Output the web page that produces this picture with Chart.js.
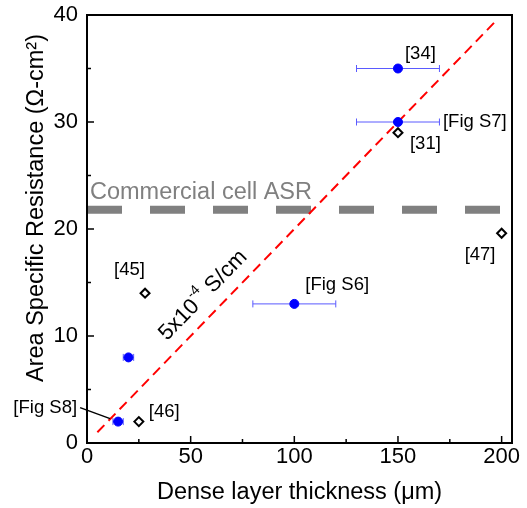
<!DOCTYPE html>
<html>
<head>
<meta charset="utf-8">
<script src="https://cdn.jsdelivr.net/npm/chart.js@4/dist/chart.umd.min.js"></script>
<style>
  html, body { margin: 0; padding: 0; background: #fff; }
  #wrap { width: 527px; height: 508px; }
</style>
</head>
<body>
<div id="wrap"><canvas id="out"></canvas></div>
<script>
// this work (blue, with x error bars)
const workThickness = [150, 150, 100, 20, 15];
const workASR = [35, 30, 13, 8, 2];
const workErr = [20, 20, 20, 2.5, 2.5];
const workLabels = ['[34]', '[Fig S7]', '[Fig S6]', '', '[Fig S8]'];

// literature (open diamonds)
const litThickness = [150, 28, 25, 200];
const litASR = [29, 14, 2, 19.6];
const litLabels = ['[31]', '[45]', '[46]', '[47]'];

// 5x10^-4 S/cm line and commercial ASR level
const fitX = [5, 198];
const fitY = [1, 39.6];
const commercialX = [0, 205];
const commercialY = [21.8, 21.8];

const xTicks = [0, 50, 100, 150, 200];
const yTicks = [0, 10, 20, 30, 40];

const FONT = '"Liberation Sans", Arial, sans-serif';

// label placement, px offset from the point
const workLabelPos = [[7, -15, 'left'], [45, 0, 'left'], [11, -19, 'left'], null, [-41, -14, 'right']];
const litLabelPos = [[12, 11, 'left'], [-31, -23, 'left'], [10, -10, 'left'], [-37, 22, 'left']];

const extras = {
  id: 'extras',
  beforeDatasetsDraw(chart) {
    const ctx = chart.ctx;
    const xs = chart.scales.x, ys = chart.scales.y;
    ctx.save();
    ctx.strokeStyle = '#5a5aff';
    ctx.lineWidth = 1;
    workThickness.forEach((t, i) => {
      const y = ys.getPixelForValue(workASR[i]);
      const x1 = xs.getPixelForValue(t - workErr[i]);
      const x2 = xs.getPixelForValue(t + workErr[i]);
      ctx.beginPath();
      ctx.moveTo(x1, y); ctx.lineTo(x2, y);
      ctx.moveTo(x1, y - 3.5); ctx.lineTo(x1, y + 3.5);
      ctx.moveTo(x2, y - 3.5); ctx.lineTo(x2, y + 3.5);
      ctx.stroke();
    });
    ctx.restore();
  },
  afterDatasetsDraw(chart) {
    const ctx = chart.ctx;
    const xs = chart.scales.x, ys = chart.scales.y;
    const a = chart.chartArea;
    ctx.save();

    // frame
    ctx.strokeStyle = '#000';
    ctx.lineWidth = 2;
    ctx.strokeRect(a.left, a.top, a.right - a.left, a.bottom - a.top);

    // inward ticks
    ctx.lineWidth = 1.5;
    ctx.beginPath();
    for (let v = 0; v <= 200; v += 25) {
      const x = xs.getPixelForValue(v);
      const len = v % 50 === 0 ? 7 : 4;
      ctx.moveTo(x, a.bottom); ctx.lineTo(x, a.bottom - len);
    }
    for (let v = 0; v <= 40; v += 5) {
      const y = ys.getPixelForValue(v);
      const len = v % 10 === 0 ? 7 : 4;
      ctx.moveTo(a.left, y); ctx.lineTo(a.left + len, y);
    }
    ctx.stroke();

    // axis titles
    ctx.fillStyle = '#000';
    ctx.font = '23.5px ' + FONT;
    ctx.textAlign = 'center';
    ctx.textBaseline = 'middle';
    ctx.fillText('Dense layer thickness (\u03bcm)', (a.left + a.right) / 2, 493);
    ctx.save();
    ctx.translate(37, 208);
    ctx.rotate(-Math.PI / 2);
    ctx.fillText('Area Specific Resistance (\u03a9-cm\u00b2)', 0, 0);
    ctx.restore();

    // point labels
    ctx.font = '18.5px ' + FONT;
    workLabels.forEach((txt, i) => {
      if (!txt) return;
      const p = workLabelPos[i];
      ctx.textAlign = p[2];
      ctx.fillText(txt, xs.getPixelForValue(workThickness[i]) + p[0], ys.getPixelForValue(workASR[i]) + p[1]);
    });
    litLabels.forEach((txt, i) => {
      const p = litLabelPos[i];
      ctx.textAlign = p[2];
      ctx.fillText(txt, xs.getPixelForValue(litThickness[i]) + p[0], ys.getPixelForValue(litASR[i]) + p[1]);
    });

    // leader for [Fig S8]
    const px = xs.getPixelForValue(workThickness[4]);
    const py = ys.getPixelForValue(workASR[4]);
    ctx.lineWidth = 1.5;
    ctx.beginPath();
    ctx.moveTo(px - 38, py - 14);
    ctx.lineTo(px - 8, py - 3);
    ctx.stroke();

    // commercial label
    ctx.fillStyle = '#808080';
    ctx.font = '23.5px ' + FONT;
    ctx.textAlign = 'left';
    ctx.fillText('Commercial cell ASR', a.left + 3, ys.getPixelForValue(commercialY[0]) - 17);

    // rotated conductivity label
    const x0 = xs.getPixelForValue(fitX[0]), y0 = ys.getPixelForValue(fitY[0]);
    const x1 = xs.getPixelForValue(fitX[1]), y1 = ys.getPixelForValue(fitY[1]);
    const ang = Math.atan2(y1 - y0, x1 - x0);
    ctx.save();
    ctx.translate(xs.getPixelForValue(56), ys.getPixelForValue(13.8));
    ctx.rotate(ang);
    ctx.fillStyle = '#000';
    ctx.font = '22px ' + FONT;
    const w1 = ctx.measureText('5x10').width;
    ctx.font = '14px ' + FONT;
    const w2 = ctx.measureText('-4').width;
    ctx.font = '22px ' + FONT;
    const w3 = ctx.measureText(' S/cm').width;
    let sx = -(w1 + w2 + w3) / 2;
    ctx.textAlign = 'left';
    ctx.fillText('5x10', sx, 0);
    sx += w1;
    ctx.font = '14px ' + FONT;
    ctx.fillText('-4', sx, -9);
    sx += w2;
    ctx.font = '22px ' + FONT;
    ctx.fillText(' S/cm', sx, 0);
    ctx.restore();

    ctx.restore();
  }
};

const canvasCtx = document.getElementById('out').getContext('2d');

const chartConfig = {
  type: 'scatter',
  data: {
    datasets: [
      {
        label: 'this work',
        data: workThickness.map((t, i) => ({ x: t, y: workASR[i] })),
        backgroundColor: '#0000ff',
        borderColor: '#0000ff',
        pointRadius: 4.5,
        pointStyle: 'circle',
        order: 0
      },
      {
        label: 'literature',
        data: litThickness.map((t, i) => ({ x: t, y: litASR[i] })),
        backgroundColor: '#fff',
        borderColor: '#000',
        borderWidth: 2,
        pointRadius: 4.5,
        pointStyle: 'rectRot',
        order: 1
      },
      {
        type: 'line',
        label: '5x10-4 S/cm',
        data: fitX.map((x, i) => ({ x: x, y: fitY[i] })),
        borderColor: '#ff0000',
        borderWidth: 2,
        borderDash: [10, 6],
        pointRadius: 0,
        fill: false,
        order: 2
      },
      {
        type: 'line',
        label: 'Commercial cell ASR',
        data: commercialX.map((x, i) => ({ x: x, y: commercialY[i] })),
        borderColor: '#808080',
        borderWidth: 8,
        borderDash: [35, 28],
        borderCapStyle: 'butt',
        pointRadius: 0,
        fill: false,
        order: 3
      }
    ]
  },
  options: {
    responsive: false,
    animation: false,
    layout: { padding: { top: 15, right: 15, left: 0, bottom: 0 } },
    plugins: { legend: { display: false }, tooltip: { enabled: false } },
    scales: {
      x: {
        type: 'linear',
        min: 0,
        max: 205,
        afterFit: (s) => { s.height = 65; s.paddingLeft = 0; s.paddingRight = 0; },
        afterBuildTicks: (s) => { s.ticks = xTicks.map(v => ({ value: v })); },
        grid: { display: false, drawTicks: false },
        border: { display: false },
        ticks: { color: '#000', font: { family: FONT, size: 22 }, padding: 1, maxRotation: 0 }
      },
      y: {
        type: 'linear',
        min: 0,
        max: 40,
        afterFit: (s) => { s.width = 87; s.paddingTop = 0; s.paddingBottom = 0; },
        afterBuildTicks: (s) => { s.ticks = yTicks.map(v => ({ value: v })); },
        grid: { display: false, drawTicks: false },
        border: { display: false },
        ticks: { color: '#000', font: { family: FONT, size: 22 }, padding: 9 }
      }
    }
  },
  plugins: [extras]
};

const canvas = document.getElementById('out');
canvas.width = 527;
canvas.height = 508;
window.chart = new Chart(canvasCtx, chartConfig);
</script>
</body>
</html>
